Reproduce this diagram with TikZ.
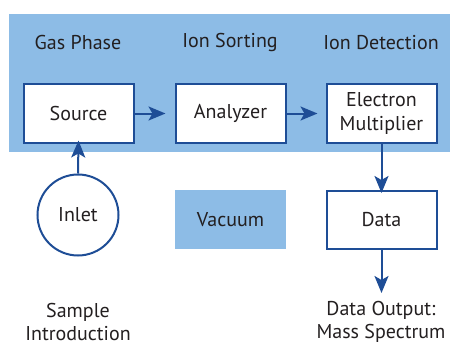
\documentclass[tikz,border=0pt]{standalone}
\usepackage{fontspec}
\setmainfont{PT Sans}
\usetikzlibrary{arrows.meta}
\definecolor{bgblue}{HTML}{8DBCE6}
\definecolor{lineblue}{HTML}{1E4D96}
\definecolor{txt}{HTML}{231F20}
\begin{document}
\begin{tikzpicture}[x=1pt,y=-1pt,
  every node/.style={text=txt,font=\fontsize{20}{23.5}\selectfont},
  box/.style={draw=lineblue,line width=2pt,fill=white,minimum width=110pt,minimum height=58pt,inner sep=0pt,align=center},
  conn/.style={draw=lineblue,line width=2pt,-{Stealth[length=17pt,width=14pt,inset=4pt]}},
  lbl/.style={align=center}]
\useasboundingbox (0,0) rectangle (450,345);
\fill[bgblue] (9,14) rectangle (450,152);
\node[lbl] (h1) at (78,43) {Gas Phase};
\node[lbl] (h2) at (230,43) {Ion Sorting};
\node[lbl] (h3) at (381,43) {Ion Detection};
\node[box] (src) at (78.5,113.5) {Source};
\node[box] (ana) at (230.5,113.5) {Analyzer};
\node[box] (em) at (381.5,113.5) {Electron\\Multiplier};
\node[draw=lineblue,line width=2pt,circle,minimum size=81pt,inner sep=0pt,fill=white] (inlet) at (78,215) {Inlet};
\node[fill=bgblue,minimum width=111pt,minimum height=59pt,inner sep=0pt] (vac) at (230.5,219.5) {Vacuum};
\node[box] (data) at (381.5,220) {Data};
\node[lbl] (si) at (78,322) {Sample\\Introduction};
\node[lbl] (dout) at (381,322) {Data Output:\\Mass Spectrum};
\coordinate (outend) at (381.5,293);
\draw[conn] (src.east) -- ([xshift=-9pt]ana.west);
\draw[conn] (ana.east) -- ([xshift=-8pt]em.west);
\draw[conn] (inlet.north) -- ([yshift=3pt]src.south);
\draw[conn] (em.south) -- ([yshift=-3pt]data.north);
\draw[conn] (data.south) -- (outend);
\end{tikzpicture}
\end{document}
